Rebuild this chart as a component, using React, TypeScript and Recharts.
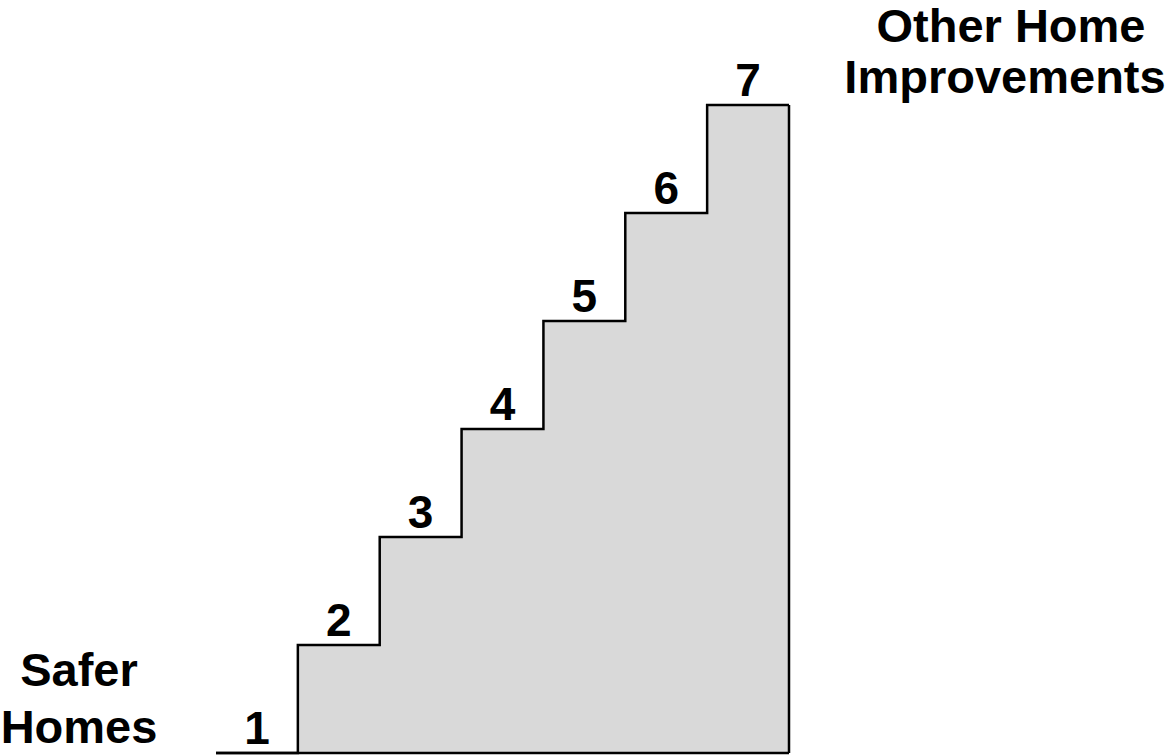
import React from 'react';
import { ComposedChart, Area, Scatter, XAxis, YAxis, ReferenceLine } from 'recharts';

// steps of the ladder, left to right
const STEPS = ['1', '2', '3', '4', '5', '6', '7'];
const LEVELS = [0, 1, 2, 3, 4, 5, 6];
const LEFT_LABEL = ['Safer', 'Homes'];
const RIGHT_LABEL = ['Other Home', 'Improvements'];

// outline points for the stepped area (one extra point closes the last step)
const areaData = LEVELS.map((v, i) => ({ x: i, level: v })).concat([
  { x: LEVELS.length, level: LEVELS[LEVELS.length - 1] },
]);
// numbers sit in the middle of each tread
const labelData = STEPS.map((s, i) => ({ x: i + 0.5, level: LEVELS[i], step: s }));

const FONT = '"Liberation Sans", Arial, sans-serif';

const StepNumber = (props: any) => {
  const { cx, cy, payload } = props;
  return (
    <text x={cx} y={cy - 9} textAnchor="middle" fontFamily={FONT} fontWeight="bold" fontSize={46} fill="#000">
      {payload.step}
    </text>
  );
};

const App: React.FC = () => {
  const last = LEVELS.length;
  return (
    <div style={{ position: 'absolute', left: 0, top: 0, width: 1171, height: 755, background: '#fff' }}>
      <ComposedChart
        width={1171}
        height={755}
        margin={{ top: 105, right: 382, left: 216, bottom: 2 }}
      >
        <XAxis type="number" dataKey="x" domain={[0, last]} hide />
        <YAxis type="number" domain={[0, LEVELS[LEVELS.length - 1]]} hide />
        <Area
          data={areaData}
          dataKey="level"
          type="stepAfter"
          stroke="#000"
          strokeWidth={2.5}
          fill="#d9d9d9"
          fillOpacity={1}
          isAnimationActive={false}
          dot={false}
          activeDot={false}
        />
        <ReferenceLine
          segment={[{ x: last, y: 0 }, { x: last, y: LEVELS[LEVELS.length - 1] }]}
          stroke="#000"
          strokeWidth={2.5}
        />
        <ReferenceLine
          segment={[{ x: 0, y: 0 }, { x: last, y: 0 }]}
          stroke="#000"
          strokeWidth={2.5}
        />
        <Scatter
          data={labelData}
          dataKey="level"
          shape={StepNumber}
          isAnimationActive={false}
        />
      </ComposedChart>
      <svg
        width={1171}
        height={755}
        style={{ position: 'absolute', left: 0, top: 0, pointerEvents: 'none' }}
      >
        <g fontFamily={FONT} fontWeight="bold" fontSize={47} fill="#000" textAnchor="middle">
          <text x={79} y={686}>{LEFT_LABEL[0]}</text>
          <text x={79} y={743}>{LEFT_LABEL[1]}</text>
          <text x={1011} y={42}>{RIGHT_LABEL[0]}</text>
          <text x={1005} y={93}>{RIGHT_LABEL[1]}</text>
        </g>
      </svg>
    </div>
  );
};

export default App;
